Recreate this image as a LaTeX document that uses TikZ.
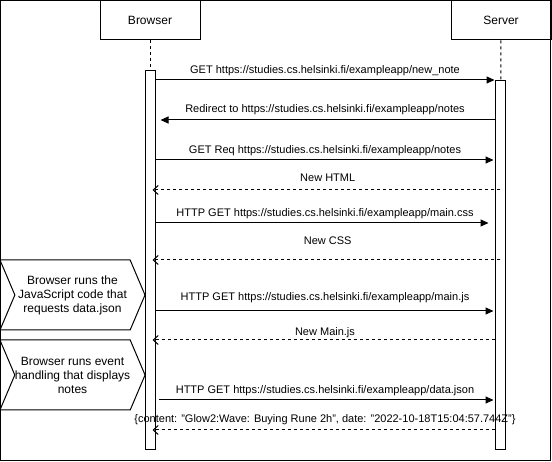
\documentclass[tikz,border=0pt]{standalone}
\usepackage{fontspec}
\setmainfont{Liberation Sans}
\usetikzlibrary{arrows.meta,shapes.symbols,positioning}

\begin{document}
\begin{tikzpicture}[x=1pt,y=-1pt,line width=1pt,font=\fontsize{11}{13}\selectfont,
		actor/.style={draw,minimum width=100pt,minimum height=40pt,font=\fontsize{12}{14}\selectfont},
		bar/.style={draw,fill=white,minimum width=10pt,inner sep=0pt,anchor=north},
		life/.style={dash pattern=on 3pt off 3pt},
		call/.style={-{Triangle[length=8pt,width=7pt]}},
		reply/.style={-{Straight Barb[length=5pt,width=9pt]},dash pattern=on 3pt off 3pt,shorten >=-3pt},
		lbl/.style={inner sep=0pt},
		task/.style={draw,signal,signal from=west,signal to=east,signal pointer angle=134,minimum width=145pt,minimum height=70pt,inner sep=0pt,align=center,font=\fontsize{12}{14}\selectfont}]
			\useasboundingbox (0,0) rectangle (552,462);
			\draw (0.5,0.5) rectangle (550,460);
			\node[actor] (browser) at (150,20) {Browser};
			\node[actor] (server) [right=250pt of browser] {Server};
			\node[bar,minimum height=379pt] (bb) at (150,70) {};
			\node[bar,minimum height=369pt] (sb) at (500,80) {};
			\draw[life] (browser) -- (bb);
			\draw[life] (server) -- (sb);
			\foreach \n/\y in {1/80,2/120,3/160,4/190,5/223,6/260,7/311,8/340,9/400,10/430}
				\coordinate (r\n) at (0,\y);
			% requests and answers
			\draw[call] (bb.east |- r1) -- node[lbl,above=4pt] {GET https://studies.cs.helsinki.fi/exampleapp/new\_note} (sb.west |- r1);
			\draw[call,shorten >=5pt] (sb.west |- r2) -- node[lbl,above=4.5pt] {Redirect to https://studies.cs.helsinki.fi/exampleapp/notes} (bb.east |- r2);
			\draw[call,shorten >=1pt] (bb.east |- r3) -- node[lbl,above=4pt] {GET Req https://studies.cs.helsinki.fi/exampleapp/notes} (sb.west |- r3);
			\draw[reply] (sb |- r4) -- node[lbl,above=8pt] {New HTML} (bb.east |- r4);
			\draw[call,shorten >=6pt] (bb.east |- r5) -- node[lbl,above=4pt] {HTTP GET https://studies.cs.helsinki.fi/exampleapp/main.css} (sb.west |- r5);
			\draw[reply] (sb |- r6) -- node[lbl,above=15pt] {New CSS} (bb.east |- r6);
			\draw[call,shorten >=1pt] (bb.east |- r7) -- node[lbl,above=8pt] {HTTP GET https://studies.cs.helsinki.fi/exampleapp/main.js} (sb.west |- r7);
			\draw[reply] (sb.west |- r8) -- node[lbl,above=2pt] {New Main.js} (bb.east |- r8);
			\draw[call,shorten <=3pt,shorten >=1pt] (bb.east |- r9) -- node[lbl,above=4pt] {HTTP GET https://studies.cs.helsinki.fi/exampleapp/data.json} (sb.west |- r9);
			\draw[reply] (sb.west |- r10) -- node[lbl,above=5pt] {\{content: "Glow2:Wave: Buying Rune 2h", date: "2022-10-18T15:04:57.744Z"\}} (bb.east |- r10);
			% what the browser does meanwhile
			\node[task] (js) at (72.5,295) {Browser runs the\\JavaScript code that\\requests data.json};
			\node[task] (ev) at (72.5,375) {Browser runs event\\handling that displays\\notes};
		\end{tikzpicture}
\end{document}
